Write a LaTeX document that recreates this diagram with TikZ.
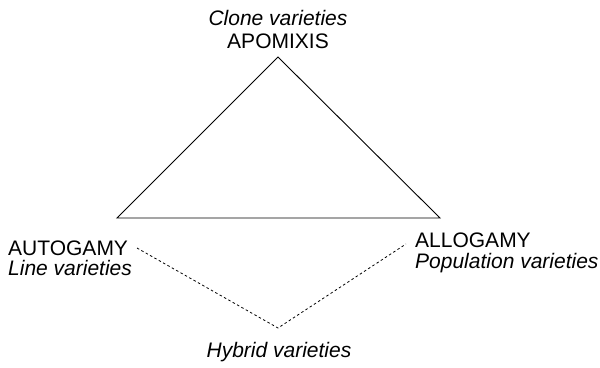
\documentclass[tikz,border=0pt]{standalone}
\usepackage{fontspec}
\setmainfont{Liberation Sans}
\begin{document}
\begin{tikzpicture}[x=1bp,y=-1bp,
  lbl/.style={inner sep=0pt,font=\fontsize{21bp}{24bp}\selectfont},
  ilbl/.style={lbl,font=\fontsize{21bp}{24bp}\selectfont\itshape},
  tri/.style={line width=0.9bp,line join=miter},
  dsh/.style={line width=0.8bp,dash pattern=on 2.5bp off 2.5bp}]
\useasboundingbox (0,0) rectangle (600,367);
\coordinate (apex) at (278,57);
\coordinate (bl) at (117,218);
\coordinate (br) at (440,218);
\coordinate (dl) at (137,248);
\coordinate (dv) at (278,328);
\coordinate (dr) at (406,244);
\draw[tri] (bl) -- (apex) -- (br) -- cycle;
\draw[dsh] (dl) -- (dv) -- (dr);
\node[ilbl,anchor=base] (clone) at (278,25) {Clone varieties};
\node[lbl,anchor=base] (apo) at (278,48) {APOMIXIS};
\node[lbl,anchor=base west] (auto) at (8,255) {AUTOGAMY};
\node[ilbl,anchor=base west] (line) at (8,275) {Line varieties};
\node[lbl,anchor=base west] (allo) at (415,247) {ALLOGAMY};
\node[ilbl,anchor=base west] (pop) at (415,268) {Population varieties};
\node[ilbl,anchor=base] (hyb) at (279,357) {Hybrid varieties};
\end{tikzpicture}
\end{document}
